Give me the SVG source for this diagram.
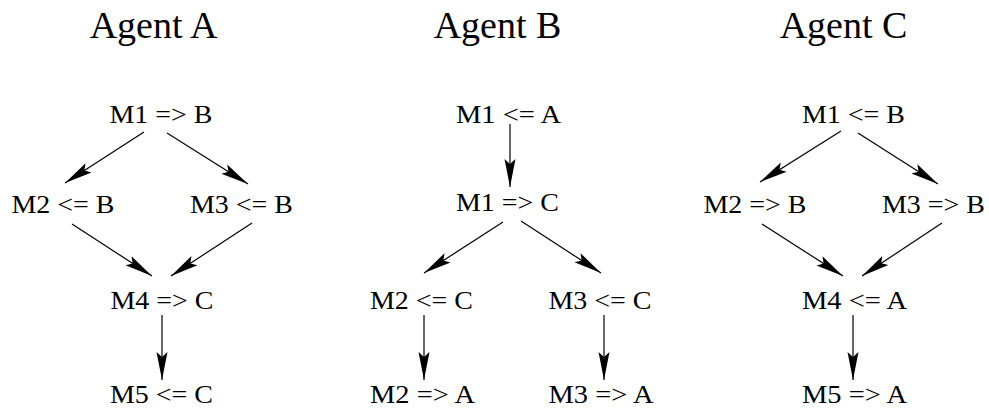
<svg xmlns="http://www.w3.org/2000/svg" width="989" height="410" viewBox="0 0 989 410">
<style>
text{font-family:"Liberation Serif","Times New Roman",serif;fill:#000;text-anchor:middle}
.t{font-size:38px}
.n{font-size:26px}
.c line{stroke:#000;stroke-width:1.2;marker-end:url(#ah)}
</style>
<defs>
<marker id="ah" markerUnits="userSpaceOnUse" markerWidth="30" markerHeight="14" viewBox="-29 -7 30 14" refX="0" refY="0" orient="auto" overflow="visible">
<path d="M0,0 L-28,-5.5 L-23,0 L-28,5.5 Z" fill="#000"/>
</marker>
</defs>
<rect width="989" height="410" fill="#fff"/>
<g id="titles">
<text class="t" x="153.5" y="38">Agent A</text>
<text class="t" x="497.5" y="38">Agent B</text>
<text class="t" x="843.5" y="38">Agent C</text>
</g>
<g id="A-M1"><text class="n" x="161" y="122.5" textLength="103" lengthAdjust="spacingAndGlyphs">M1 =&gt; B</text></g>
<g id="A-M2"><text class="n" x="63" y="213" textLength="103" lengthAdjust="spacingAndGlyphs">M2 &lt;= B</text></g>
<g id="A-M3"><text class="n" x="241.5" y="213" textLength="103" lengthAdjust="spacingAndGlyphs">M3 &lt;= B</text></g>
<g id="A-M4"><text class="n" x="162" y="309" textLength="103" lengthAdjust="spacingAndGlyphs">M4 =&gt; C</text></g>
<g id="A-M5"><text class="n" x="161.5" y="403" textLength="103" lengthAdjust="spacingAndGlyphs">M5 &lt;= C</text></g>
<g id="B-M1in"><text class="n" x="508.5" y="123" textLength="105" lengthAdjust="spacingAndGlyphs">M1 &lt;= A</text></g>
<g id="B-M1out"><text class="n" x="507.5" y="211" textLength="103" lengthAdjust="spacingAndGlyphs">M1 =&gt; C</text></g>
<g id="B-M2in"><text class="n" x="421.5" y="309" textLength="103" lengthAdjust="spacingAndGlyphs">M2 &lt;= C</text></g>
<g id="B-M3in"><text class="n" x="600" y="309" textLength="103" lengthAdjust="spacingAndGlyphs">M3 &lt;= C</text></g>
<g id="B-M2out"><text class="n" x="422.5" y="403" textLength="105" lengthAdjust="spacingAndGlyphs">M2 =&gt; A</text></g>
<g id="B-M3out"><text class="n" x="601" y="403" textLength="105" lengthAdjust="spacingAndGlyphs">M3 =&gt; A</text></g>
<g id="C-M1"><text class="n" x="853.5" y="123" textLength="103" lengthAdjust="spacingAndGlyphs">M1 &lt;= B</text></g>
<g id="C-M2"><text class="n" x="755" y="213" textLength="103" lengthAdjust="spacingAndGlyphs">M2 =&gt; B</text></g>
<g id="C-M3"><text class="n" x="933.5" y="213" textLength="103" lengthAdjust="spacingAndGlyphs">M3 =&gt; B</text></g>
<g id="C-M4"><text class="n" x="854.5" y="309" textLength="105" lengthAdjust="spacingAndGlyphs">M4 &lt;= A</text></g>
<g id="C-M5"><text class="n" x="854.5" y="403" textLength="105" lengthAdjust="spacingAndGlyphs">M5 =&gt; A</text></g>
<g id="connectors" class="c">
<line x1="144" y1="132" x2="65" y2="183"/>
<line x1="167" y1="133" x2="248" y2="184"/>
<line x1="72" y1="224" x2="152" y2="276"/>
<line x1="252" y1="223" x2="171" y2="276"/>
<line x1="162" y1="315" x2="162" y2="380"/>
<line x1="510" y1="124" x2="510" y2="187"/>
<line x1="503" y1="222" x2="424" y2="273"/>
<line x1="521" y1="221" x2="601" y2="273"/>
<line x1="424" y1="315" x2="424" y2="380"/>
<line x1="604" y1="315" x2="604" y2="380"/>
<line x1="841" y1="131" x2="760" y2="182"/>
<line x1="858" y1="133" x2="938" y2="184"/>
<line x1="762" y1="224" x2="843" y2="276"/>
<line x1="942" y1="223" x2="862" y2="276"/>
<line x1="853" y1="315" x2="853" y2="380"/>
</g>
</svg>
